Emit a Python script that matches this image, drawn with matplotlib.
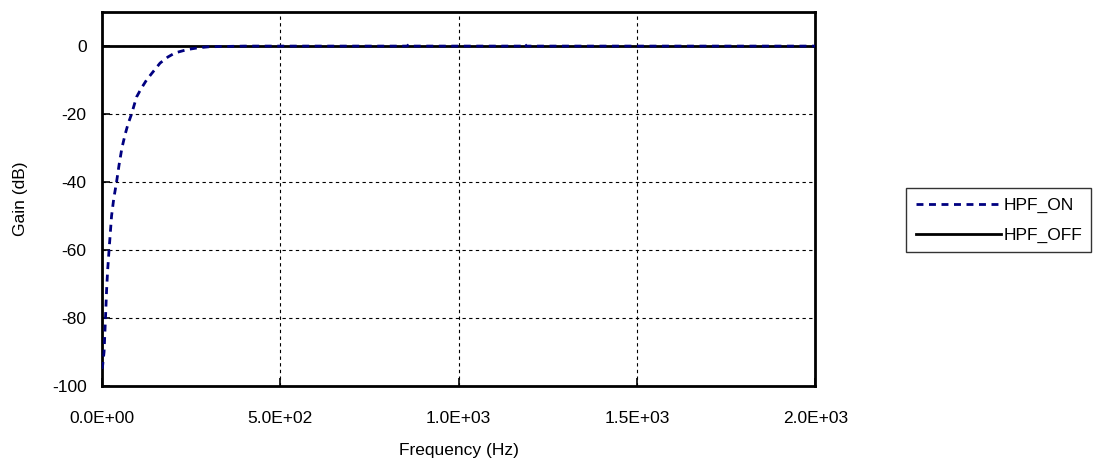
import numpy as np
import matplotlib.pyplot as plt

plt.rcParams['font.family'] = ['Liberation Sans', 'DejaVu Sans']
plt.rcParams['axes.unicode_minus'] = False

# данные
f_on = [0, 2, 4, 6, 8, 10, 13, 16, 20, 27, 33, 41, 48, 56, 65, 73, 83, 97, 110, 125, 140, 163, 185, 205, 240, 270, 300,
        400, 600, 855, 860, 865, 1000, 1180, 1185, 1190, 1400, 1700, 2000]
g_on = [-95, -94, -92, -90, -85, -80, -72, -66, -60, -50, -45, -40, -35, -30, -26, -23, -20, -15, -12.5, -10, -8,
        -5, -3.2, -2, -1, -0.5, -0.2, 0, 0, 0, 0.4, 0, 0, 0, 0.6, 0, 0, 0, 0]
f_off = [0, 500, 1000, 1500, 2000]
g_off = [0, 0, 0, 0, 0]

fig = plt.figure(figsize=(10.96, 4.66), dpi=100)
ax = fig.add_axes([0.093, 0.172, 0.651, 0.802])

ax.plot(f_off, g_off, color='black', lw=2, label='HPF_OFF', zorder=3)
ax.plot(f_on, g_on, color='#000080', ls=(0, (2.5, 2)), lw=2, label='HPF_ON', zorder=4)

ax.set_xlim(0, 2000)
ax.set_ylim(-100, 10)
ax.set_xticks([0, 500, 1000, 1500, 2000])
ax.set_xticklabels(['0.0E+00', '5.0E+02', '1.0E+03', '1.5E+03', '2.0E+03'])
ax.set_yticks([-100, -80, -60, -40, -20, 0])
ax.tick_params(direction='in', length=6, width=1.2, labelsize=12.5)
ax.tick_params(axis='x', pad=18)
ax.tick_params(axis='y', pad=11)
ax.grid(True, color='black', ls=(0, (3, 3)), lw=0.8)
for s in ax.spines.values():
    s.set_linewidth(2)

ax.set_xlabel('Frequency (Hz)', fontsize=12.5, labelpad=12)
ax.set_ylabel('Gain (dB)', fontsize=12.5, labelpad=17)

h, l = ax.get_legend_handles_labels()
leg = fig.legend(h[::-1], l[::-1], loc='upper left', bbox_to_anchor=(0.8266, 0.5966), fontsize=12.5, frameon=True,
                 fancybox=False, edgecolor='black', handlelength=4.9, handletextpad=0.15, borderpad=0.55,
                 labelspacing=0.85, borderaxespad=0)
leg.get_frame().set_linewidth(1)

fig.savefig('out.png', dpi=100)
